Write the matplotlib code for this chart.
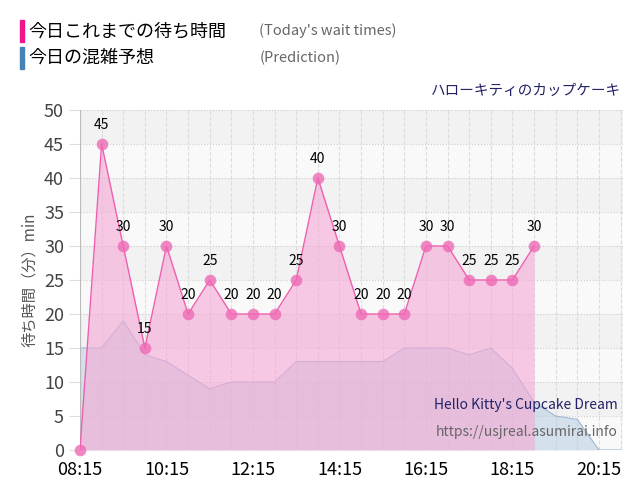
import matplotlib
matplotlib.use("Agg")
import matplotlib.pyplot as plt
import matplotlib.patches as mpatches
import numpy as np

plt.rcParams['font.family'] = ['Noto Sans CJK JP', 'DejaVu Sans']

# hours from 08:15, every 30 minutes
wait_times = [0, 45, 30, 15, 30, 20, 25, 20, 20, 20, 25, 40, 30, 20, 20, 20, 30, 30, 25, 25, 25, 30]
prediction = [15, 15, 19, 14, 13, 11, 9, 10, 10, 10, 13, 13, 13, 13, 13, 15, 15, 15, 14, 15,
              12, 7, 5, 4.5, 0, 0]
tick_labels = ["08:15", "10:15", "12:15", "14:15", "16:15", "18:15", "20:15"]

t_wait = 8.25 + 0.5 * np.arange(len(wait_times))
t_pred = 8.25 + 0.5 * np.arange(len(prediction))

fig = plt.figure(figsize=(6.4, 5), dpi=100)
ax = fig.add_axes([0.125, 0.1, 0.848, 0.68])

# alternating bands
for i, lo in enumerate(range(0, 50, 5)):
    ax.axhspan(lo, lo + 5, color="#f2f2f2" if i % 2 else "#f9f9f9", zorder=0, lw=0)

ax.fill_between(t_pred, prediction, color="#b7cce0", alpha=0.55, zorder=1, lw=0)
ax.plot(t_pred, prediction, color="#9fb5d3", lw=0.8, zorder=1)
ax.fill_between(t_wait, wait_times, color="#f7a8d5", alpha=0.6, zorder=2, lw=0)
ax.plot(t_wait, wait_times, color="#ef5fb0", lw=1, zorder=3)
ax.scatter(t_wait, wait_times, s=70, color="#ee6ab5", alpha=0.8, zorder=4, lw=0, clip_on=False)
for x, y in zip(t_wait[1:], wait_times[1:]):
    ax.text(x, y + 1.8, str(y), ha="center", va="bottom", fontsize=10, zorder=5)

ax.set_xlim(8.25, 20.8)
ax.set_ylim(0, 50)
ax.set_xticks(np.arange(8.25, 21, 2))
ax.set_xticklabels(tick_labels, fontsize=13)
ax.set_xticks(np.arange(8.25, 20.8, 0.5), minor=True)
ax.set_yticks(range(0, 51, 5))
ax.tick_params(axis="y", labelsize=13, labelcolor="#444444", length=8, color="#dddddd")
ax.tick_params(axis="x", which="both", length=0, pad=8)
ax.grid(axis="x", which="both", color="#dddddd", ls="--", lw=0.8)
ax.grid(axis="y", color="#cccccc", ls=":", lw=0.8)
ax.set_axisbelow(True)
for s in ax.spines.values():
    s.set_visible(False)
ax.axvline(8.25, color="#bbbbbb", lw=0.8)
ax.set_ylabel("待ち時間（分）min", fontsize=11, color="#555555")

ax.text(0.99, 0.12, "Hello Kitty's Cupcake Dream", transform=ax.transAxes,
        ha="right", fontsize=10, color="#222266")
ax.text(0.99, 0.04, "https://usjreal.asumirai.info", transform=ax.transAxes,
        ha="right", fontsize=10, color="#666666")

fig.text(0.97, 0.81, "ハローキティのカップケーキ", ha="right", fontsize=10.5, color="#222266")

fig.patches.append(mpatches.Rectangle((0.031, 0.916), 0.006, 0.044, color="#f0168a",
                                      transform=fig.transFigure, figure=fig))
fig.patches.append(mpatches.Rectangle((0.031, 0.862), 0.006, 0.044, color="#4682b4",
                                      transform=fig.transFigure, figure=fig))
fig.text(0.044, 0.938, "今日これまでの待ち時間", fontsize=13, va="center")
fig.text(0.044, 0.884, "今日の混雑予想", fontsize=13, va="center")
fig.text(0.405, 0.938, "(Today's wait times)", fontsize=10.5, va="center", color="#666666")
fig.text(0.405, 0.884, "(Prediction)", fontsize=10.5, va="center", color="#666666")

fig.savefig("out.png", dpi=100)
